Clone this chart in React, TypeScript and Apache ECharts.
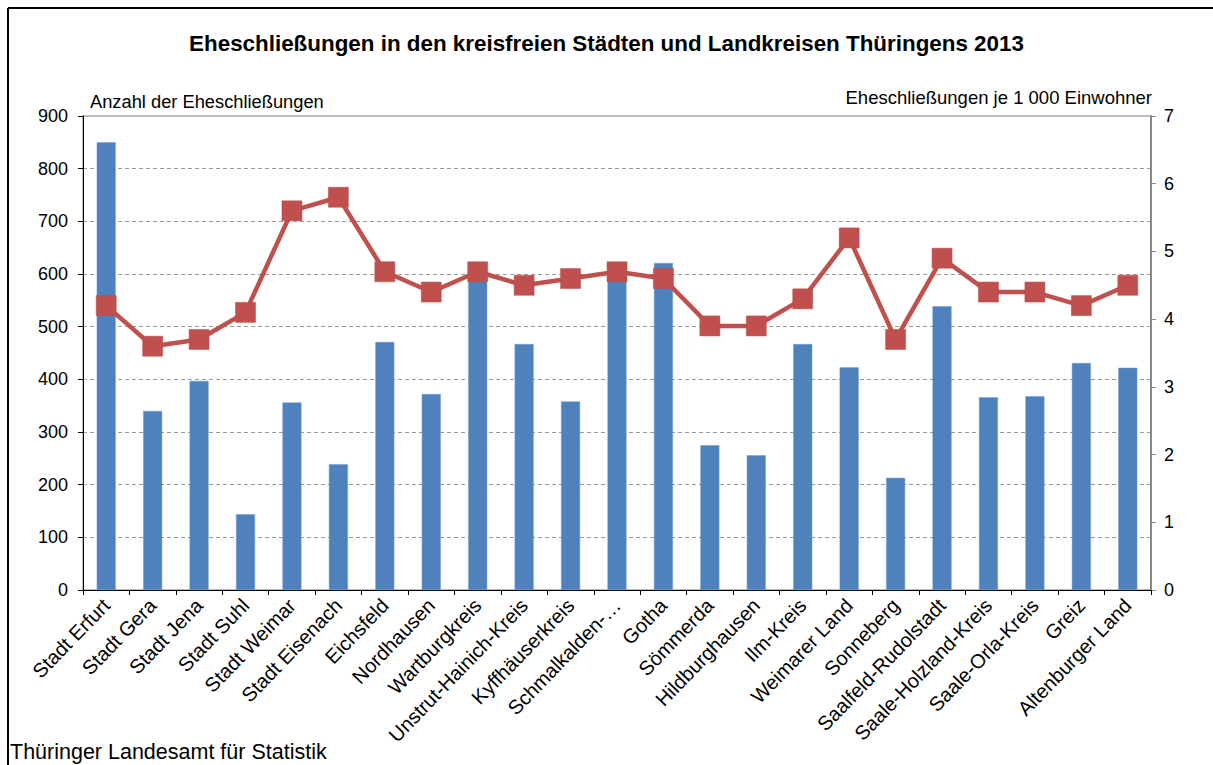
import React, { useEffect, useRef } from "react";
import * as echarts from "echarts";

const categories = [
  "Stadt Erfurt", "Stadt Gera", "Stadt Jena", "Stadt Suhl", "Stadt Weimar", "Stadt Eisenach",
  "Eichsfeld", "Nordhausen", "Wartburgkreis", "Unstrut-Hainich-Kreis", "Kyffhäuserkreis",
  "Schmalkalden-Meiningen", "Gotha", "Sömmerda", "Hildburghausen", "Ilm-Kreis", "Weimarer Land",
  "Sonneberg", "Saalfeld-Rudolstadt", "Saale-Holzland-Kreis", "Saale-Orla-Kreis", "Greiz",
  "Altenburger Land",
];

const marriages = [
  850, 340, 397, 144, 356, 239, 471, 372, 595, 467, 358, 600, 621, 275, 256, 467, 423, 213, 539,
  366, 368, 431, 422,
];

const perThousand = [
  4.2, 3.6, 3.7, 4.1, 5.6, 5.8, 4.7, 4.4, 4.7, 4.5, 4.6, 4.7, 4.6, 3.9, 3.9, 4.3, 5.2, 3.7, 4.9,
  4.4, 4.4, 4.2, 4.5,
];

const title = "Eheschließungen in den kreisfreien Städten und Landkreisen Thüringens 2013";
const leftAxisName = "Anzahl der Eheschließungen";
const rightAxisName = "Eheschließungen je 1 000 Einwohner";
const source = "Thüringer Landesamt für Statistik";

const FONT = "'Liberation Sans', Arial, sans-serif";

export default function App() {
  const ref = useRef<HTMLDivElement>(null);
  useEffect(() => {
    if (!ref.current) return;
    const chart = echarts.init(ref.current, null, { renderer: "svg" });
    chart.setOption({
      animation: false,
      backgroundColor: "#ffffff",
      textStyle: { fontFamily: FONT },
      title: {
        text: title,
        left: "center",
        top: 27,
        textStyle: { fontFamily: FONT, fontSize: 22.4, fontWeight: "bold", color: "#000" },
      },
      grid: {
        left: 83,
        right: 62,
        top: 116,
        bottom: 175,
        show: true,
        borderColor: "#777",
        borderWidth: 1,
        containLabel: false,
      },
      xAxis: {
        type: "category",
        data: categories,
        boundaryGap: true,
        axisLine: { lineStyle: { color: "#000", width: 1 } },
        axisTick: { show: true, alignWithLabel: false, length: 5, lineStyle: { color: "#000" } },
        axisLabel: {
          rotate: 46,
          interval: 0,
          margin: 12,
          fontSize: 20,
          color: "#000",
          fontFamily: FONT,
          formatter: (v: string) => (v.length > 21 ? v.slice(0, 13) + "…" : v),
        },
      },
      yAxis: [
        {
          type: "value",
          min: 0,
          max: 900,
          interval: 100,
          axisLine: { show: true, lineStyle: { color: "#000", width: 1 } },
          axisTick: { show: true, length: 5, lineStyle: { color: "#000" } },
          axisLabel: { fontSize: 18, color: "#000", fontFamily: FONT, margin: 15 },
          splitLine: {
            show: true,
            showMinLine: false,
            showMaxLine: false,
            lineStyle: { color: "#999", type: [4, 3], width: 1 },
          },
        },
        {
          type: "value",
          min: 0,
          max: 7,
          interval: 1,
          position: "right",
          axisLine: { show: true, lineStyle: { color: "#888", width: 2 } },
          axisTick: { show: true, length: 5, lineStyle: { color: "#888" } },
          axisLabel: { fontSize: 18, color: "#000", fontFamily: FONT, margin: 13 },
          splitLine: { show: false },
        },
      ],
      graphic: [
        {
          type: "line",
          shape: { x1: 8, y1: 8, x2: 1213, y2: 8 },
          style: { stroke: "#000", lineWidth: 2 },
        },
        {
          type: "line",
          shape: { x1: 8, y1: 8, x2: 8, y2: 765 },
          style: { stroke: "#000", lineWidth: 2 },
        },
        {
          type: "text",
          left: 90,
          top: 92,
          style: { text: leftAxisName, fontSize: 18.3, fill: "#000", fontFamily: FONT },
        },
        {
          type: "text",
          right: 61,
          top: 88,
          style: { text: rightAxisName, fontSize: 18.5, fill: "#000", fontFamily: FONT },
        },
        {
          type: "text",
          left: 10,
          top: 741,
          style: { text: source, fontSize: 21.5, fill: "#000", fontFamily: FONT },
        },
      ],
      series: [
        {
          type: "bar",
          name: leftAxisName,
          data: marriages,
          yAxisIndex: 0,
          barWidth: 19,
          itemStyle: { color: "#4F81BD", borderColor: "#6E9BD1", borderWidth: 0.5 },
          z: 2,
        },
        {
          type: "line",
          name: rightAxisName,
          data: perThousand,
          yAxisIndex: 1,
          symbol: "rect",
          symbolSize: 20,
          lineStyle: { color: "#C0504D", width: 4.5 },
          itemStyle: { color: "#C0504D", borderColor: "#B84A47", borderWidth: 0.5 },
          z: 3,
        },
      ],
    });
    return () => chart.dispose();
  }, []);
  return <div ref={ref} style={{ width: 1213, height: 765, position: "absolute", left: 0, top: 0 }} />;
}
